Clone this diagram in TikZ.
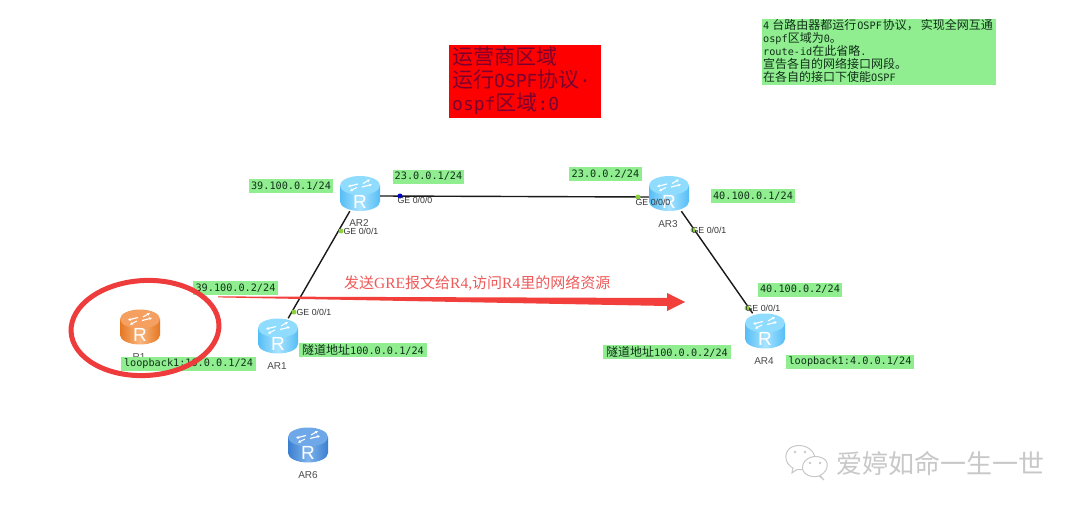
\documentclass[tikz,border=0pt]{standalone}
\usepackage{fontspec}
\setmainfont{DejaVu Sans Mono}
\newfontfamily\cjkf{Noto Sans CJK SC}
\newfontfamily\arialf{Liberation Sans}
\newfontfamily\timesf{Liberation Serif}
\usetikzlibrary{arrows.meta,shapes.geometric}
\definecolor{labgreen}{HTML}{90EE90}
\definecolor{labtext}{HTML}{103018}
\definecolor{portgreen}{HTML}{8CD23C}
\definecolor{ringred}{HTML}{EE3B3B}
\definecolor{arrowred}{HTML}{F23F3C}
\definecolor{sendtext}{HTML}{EE5A5A}
\definecolor{boxred}{HTML}{FF0000}
\definecolor{boxtext}{HTML}{7A0030}
\definecolor{wmgrey}{HTML}{C8C8C8}
\definecolor{cyA}{HTML}{A8E4FF}\definecolor{cyB}{HTML}{55BDF5}\definecolor{cyC}{HTML}{8FDCFF}
\definecolor{orA}{HTML}{F8B67E}\definecolor{orB}{HTML}{E67722}\definecolor{orC}{HTML}{F5A060}
\definecolor{blA}{HTML}{7FB4EC}\definecolor{blB}{HTML}{3A7FD0}\definecolor{blC}{HTML}{6FA8E8}
\newcommand\cj[2][12]{{\cjkf\fontsize{#1}{#1}\selectfont #2}}
\tikzset{
  lab/.style={fill=labgreen,text=labtext,inner sep=0pt,minimum height=14pt,font=\fontsize{10.2}{12}\selectfont},
  port/.style={font=\arialf\fontsize{8.8}{10}\selectfont,text=black!80,inner sep=0pt},
  rname/.style={font=\arialf\fontsize{10}{12}\selectfont,text=black!70,inner sep=0pt},
  dot/.style={circle,fill=portgreen,inner sep=0pt,minimum size=5pt},
  link/.style={draw=black!90,line width=1.4pt},
  rbox/.style={inner sep=0pt,minimum width=40pt,minimum height=35pt},
}
\newcommand\routericon[6]{%
  \node[rbox] (#1) at (#2,#3) {};
  \begin{scope}[shift={(#2,#3)}]
    \path[left color=#5,right color=#5,middle color=#6]
      (-20,-8) -- (-20,8) arc[start angle=180,end angle=0,x radius=20,y radius=9.5] -- (20,-8) -- cycle;
    \fill[#4] (0,-8) ellipse[x radius=20,y radius=9.5];
    \begin{scope}[white,line width=1.1pt,>={Stealth[length=3pt,width=3pt]}]
      \draw[->] (-2,-9.5) -- (-12,-7);
      \draw[->] (2,-6.5) -- (12,-9);
      \draw[->] (3,-10) -- (10,-14);
      \draw[->] (-3,-6) -- (-10,-2.5);
    \end{scope}
    \node[font=\arialf\fontsize{19}{19}\selectfont,text=white,inner sep=0pt] at (0,8) {R};
  \end{scope}
}
\begin{document}
\begin{tikzpicture}[x=1pt,y=-1pt]
\useasboundingbox (0,0) rectangle (1080,511);
\fill[white] (0,0) rectangle (1080,511);

% routers
\routericon{ar2}{360}{193.5}{cyC}{cyB}{cyA}
\routericon{ar3}{669}{193.5}{cyC}{cyB}{cyA}
\routericon{ar1}{278}{336}{cyC}{cyB}{cyA}
\routericon{ar4}{765}{331}{cyC}{cyB}{cyA}
\routericon{r1}{140}{327}{orC}{orB}{orA}
\routericon{ar6}{308}{445}{blC}{blB}{blA}

% links
\draw[link] (ar2.east |- 0,196) -- (ar3.west |- 0,197);
\draw[link] (ar2) -- (ar1);
\draw[link] (ar3) -- (ar4);

% port dots
\node[dot,fill=blue!85!black] (p1) at (400,196) {};
\node[dot] (p2) at (341,231) {};
\node[dot] (p3) at (294,312) {};
\node[dot] (p4) at (638,197) {};
\node[dot] (p5) at (693,230) {};
\node[dot] (p6) at (747,308) {};

% port labels
\node[port] (t1) at (415,200) {GE 0/0/0};
\node[port] (t2) at (361,231) {GE 0/0/1};
\node[port] (t3) at (314,312) {GE 0/0/1};
\node[port] (t4) at (653,202) {GE 0/0/0};
\node[port] (t5) at (709,230) {GE 0/0/1};
\node[port] (t6) at (763,308) {GE 0/0/1};

% router names
\node[rname] (n2) at (359,223) {AR2};
\node[rname] (n3) at (668,224) {AR3};
\node[rname] (n1) at (277,366) {AR1};
\node[rname] (n4) at (764,361) {AR4};
\node[rname] (n0) at (139,357) {R1};
\node[rname] (n6) at (308,475) {AR6};

% address labels
\node[lab,minimum width=84pt] (a1) at (291,186) {39.100.0.1/24};
\node[lab,minimum width=71pt] (a2) at (428.5,176.5) {23.0.0.1/24};
\node[lab,minimum width=73pt] (a3) at (605.5,174) {23.0.0.2/24};
\node[lab,minimum width=84pt] (a4) at (753,196) {40.100.0.1/24};
\node[lab,minimum width=84pt] (a5) at (800,289.5) {40.100.0.2/24};
\node[lab,minimum width=128pt] (a6) at (667,352) {\cj{隧道地址}100.0.0.2/24};
\node[lab,minimum width=128pt] (a7) at (850,362) {loopback1:4.0.0.1/24};
\node[lab,minimum width=85pt] (a8) at (235.5,288) {39.100.0.2/24};
\node[lab,minimum width=128pt] (a9) at (363,350) {\cj{隧道地址}100.0.0.1/24};
\node[lab,minimum width=135pt] (a10) at (188.5,363.5) {loopback1:10.0.0.1/24};

% red ring
\draw[ringred,line width=5pt] (145,328) ellipse[x radius=74,y radius=47.5,rotate=3];

% tapered arrow
\fill[arrowred] (218,296.4) -- (667,298) -- (667,293) -- (685,302) -- (667,311) -- (667,306) -- (218,297.4) -- cycle;
\node[text=sendtext,inner sep=0pt,anchor=west,font=\timesf\fontsize{15.5}{16}\selectfont] (send) at (344,283)
  {\cj[15]{发送}GRE\cj[15]{报文给}R4,\cj[15]{访问}R4\cj[15]{里的网络资源}};

% red box
\node[fill=boxred,minimum width=152pt,minimum height=73pt,inner sep=0pt] (redbox) at (525,81.5) {};
\node[text=boxtext,anchor=west,inner sep=0pt,font=\fontsize{18}{18}\selectfont] (rb1) at (452,57) {\cj[21]{运营商区域}};
\node[text=boxtext,anchor=west,inner sep=0pt,font=\fontsize{18}{18}\selectfont] (rb2) at (452,80) {\cj[21]{运行}OSPF\cj[21]{协议}·};
\node[text=boxtext,anchor=west,inner sep=0pt,font=\fontsize{18}{18}\selectfont] (rb3) at (452,104) {ospf\cj[21]{区域}:0};

% green note
\node[fill=labgreen,minimum width=234pt,minimum height=66pt,inner sep=0pt] (note) at (879,52) {};
\begin{scope}[every node/.style={text=labtext,anchor=west,inner sep=0pt,font=\fontsize{10.2}{12}\selectfont}]
\node (l1) at (763,25.5) {4\hspace{3pt}\cj{台路由器都运行}\hspace{1pt}OSPF\hspace{1pt}\cj{协议，}\hspace{2pt}\cj{实现全网互通}};
\node (l2) at (763,38.5) {ospf\cj{区域为}0\cj{。}};
\node (l3) at (763,51) {route-id\cj{在此省略}.};
\node (l4) at (763,64) {\cj{宣告各自的网络接口网段。}};
\node (l5) at (763,76.5) {\cj{在各自的接口下使能}OSPF};
\end{scope}

% watermark
\begin{scope}[draw=wmgrey,line width=1pt]
\draw[fill=white] (793,468) .. controls (784,464) and (783,450) .. (793,446.5) .. controls (803,443) and (815,449) .. (815,459) .. controls (815,466) and (805,471) .. (797,469.5) -- (792,473) -- cycle;
\draw[fill=white] (820,475.5) .. controls (829,471) and (830,460) .. (821,457.5) .. controls (812,454) and (802,460) .. (802.5,468) .. controls (803,475) and (812,478) .. (819,476) -- (824,480) -- cycle;
\fill[wmgrey] (795,452) circle[radius=1.4] (805,452) circle[radius=1.4] (810,463) circle[radius=1.4] (820,463) circle[radius=1.4];
\end{scope}
\node[text=wmgrey,inner sep=0pt] (wm) at (940,463) {\cj[26]{爱婷如命一生一世}};
\end{tikzpicture}
\end{document}
